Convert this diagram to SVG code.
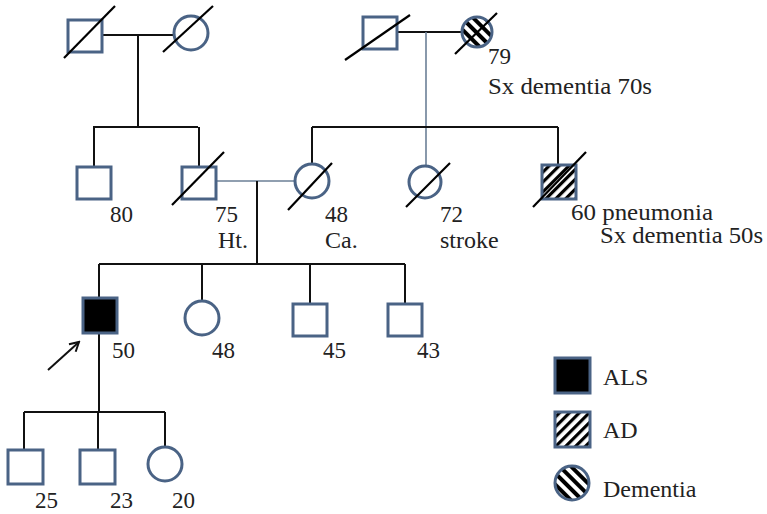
<svg xmlns="http://www.w3.org/2000/svg" width="767" height="514" viewBox="0 0 767 514">
<style>
.sh{fill:#fff;stroke:#4a6385;stroke-width:3}
.ln{stroke:#111;stroke-width:2;fill:none}
.ln2{stroke:#6b7f96;stroke-width:1.6;fill:none}
.sl{stroke:#000;stroke-width:2.2}
text{font-family:"Liberation Serif","Times New Roman",serif;font-size:24px;fill:#222}
.n{font-size:23px}
</style>
<defs>
<pattern id="ad" patternUnits="userSpaceOnUse" width="7" height="7" patternTransform="rotate(45)">
<rect width="7" height="7" fill="#fff"/><rect width="3.2" height="7" fill="#000"/>
</pattern>
<pattern id="dem" patternUnits="userSpaceOnUse" width="8" height="8" patternTransform="rotate(-45)">
<rect width="8" height="8" fill="#fff"/><rect width="4" height="8" fill="#000"/>
</pattern>
<marker id="arr" markerWidth="12" markerHeight="12" refX="10" refY="6" orient="auto" markerUnits="userSpaceOnUse">
<path d="M1,1 L10,6 L1,11" fill="none" stroke="#111" stroke-width="2"/>
</marker>
</defs>
<g id="connectors">
<path class="ln" d="M102,35 H174 M138,35 V127 M93,127 H198 M94,127 V167 M199,127 V167"/>
<path class="ln" d="M397,32 H462"/>
<path class="ln2" d="M426,32 V166"/>
<path class="ln" d="M312,127 H558 M312,127 V164 M558,127 V165"/>
<path class="ln2" d="M216,181 H295"/>
<path class="ln" d="M257,181 V264 M99,264 H405 M99,264 V298 M202,264 V301 M310,264 V304 M405,264 V304"/>
<path class="ln" d="M99,333 V412 M24,412 H165 M24,412 V450 M98,412 V450 M165,412 V447"/>
<line class="ln" x1="48" y1="370" x2="79" y2="342" marker-end="url(#arr)"/>
</g>
<g id="gp1"><rect class="sh" x="68" y="20" width="34" height="32"/><line class="sl" x1="64" y1="58" x2="115" y2="6"/></g>
<g id="gm1"><circle class="sh" cx="191" cy="33" r="17"/><line class="sl" x1="163" y1="52" x2="213" y2="6"/></g>
<g id="gp2"><rect class="sh" x="363" y="17" width="34" height="32"/><line class="sl" x1="345" y1="60" x2="410" y2="15"/></g>
<g id="gm2"><circle cx="477" cy="32" r="15" fill="url(#dem)" stroke="#4a6385" stroke-width="3"/><line class="sl" x1="455" y1="54" x2="497" y2="13"/>
<text class="n" x="488" y="64">79</text><text x="488" y="94" textLength="164" lengthAdjust="spacingAndGlyphs">Sx dementia 70s</text></g>
<g id="u80"><rect class="sh" x="77" y="167" width="34" height="32"/><text class="n" x="110" y="222">80</text></g>
<g id="f75"><rect class="sh" x="182" y="167" width="34" height="32"/><line class="sl" x1="172" y1="205" x2="224" y2="152"/><text class="n" x="215" y="222">75</text><text x="218" y="248">Ht.</text></g>
<g id="m48"><circle class="sh" cx="312" cy="181" r="17"/><line class="sl" x1="288" y1="210" x2="332" y2="163"/><text class="n" x="325" y="222">48</text><text x="325" y="248">Ca.</text></g>
<g id="a72"><circle class="sh" cx="425" cy="182" r="16"/><line class="sl" x1="406" y1="207" x2="450" y2="163"/><text class="n" x="440" y="222">72</text><text x="440" y="248">stroke</text></g>
<g id="u60"><rect x="542" y="165" width="34" height="34" fill="url(#ad)" stroke="#4a6385" stroke-width="3"/><line class="sl" x1="533" y1="207" x2="586" y2="152"/>
<text x="571" y="220" textLength="142" lengthAdjust="spacingAndGlyphs">60 pneumonia</text><text x="600" y="243" textLength="163" lengthAdjust="spacingAndGlyphs">Sx dementia 50s</text></g>
<g id="p50"><rect x="83" y="298" width="34" height="35" fill="#000" stroke="#4a6385" stroke-width="3"/><text class="n" x="112" y="358">50</text></g>
<g id="s48"><circle class="sh" cx="202" cy="318" r="17"/><text class="n" x="212" y="358">48</text></g>
<g id="b45"><rect class="sh" x="293" y="304" width="34" height="32"/><text class="n" x="323" y="358">45</text></g>
<g id="b43"><rect class="sh" x="388" y="304" width="34" height="32"/><text class="n" x="417" y="358">43</text></g>
<g id="c25"><rect class="sh" x="8" y="450" width="35" height="34"/><text class="n" x="35" y="508">25</text></g>
<g id="c23"><rect class="sh" x="80" y="450" width="35" height="34"/><text class="n" x="110" y="508">23</text></g>
<g id="c20"><circle class="sh" cx="165" cy="464" r="17"/><text class="n" x="172" y="508">20</text></g>
<g id="legend">
<rect x="555" y="358" width="35" height="35" fill="#000" stroke="#4a6385" stroke-width="3"/><text x="603" y="385">ALS</text>
<rect x="555" y="412" width="35" height="35" fill="url(#ad)" stroke="#4a6385" stroke-width="3"/><text x="603" y="438">AD</text>
<circle cx="572" cy="483" r="17" fill="url(#dem)" stroke="#4a6385" stroke-width="3"/><text x="603" y="497">Dementia</text>
</g>
</svg>
